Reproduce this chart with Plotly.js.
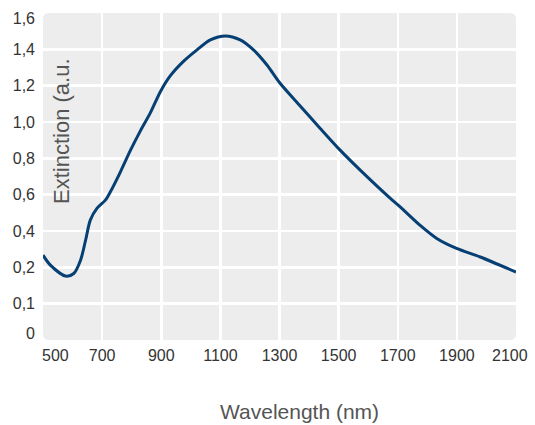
<!DOCTYPE html>
<html>
<head>
<meta charset="utf-8">
<script src="https://cdn.plot.ly/plotly-3.0.1.min.js"></script>
<style>html,body{margin:0;padding:0;background:#fff;}#chart{width:535px;height:425px;}</style>
</head>
<body>
<div id="chart"></div>
<script>
// Data (wavelength in nm, extinction in a.u.)
const wavelength = [500,525,576,604,627,644,660,683,711,728,762,796,829,863,897,931,976,1021,1066,1117,1167,1212,1257,1302,1370,1437,1505,1573,1674,1708,1775,1832,1899,1979,2100];
const extinction = [0.267,0.212,0.176,0.183,0.239,0.349,0.46,0.526,0.57,0.616,0.726,0.845,0.95,1.05,1.167,1.255,1.335,1.397,1.452,1.474,1.452,1.397,1.315,1.213,1.088,0.966,0.845,0.735,0.581,0.533,0.432,0.359,0.304,0.257,0.187];

// Tick labels
const xTickText = ['500','700','900','1100','1300','1500','1700','1900','2100'];
const xGridVals = [700,900,1100,1300,1500,1700,1900];
const yTickText = ['0','0,1','0,2','0,4','0,6','0,8','1,0','1,2','1,4','1,6'];

// The y axis is piecewise: 0–0.2 in steps of 0.1, then steps of 0.2, all equally spaced
function yPos(v){ return v <= 0.2 ? v / 0.1 : 2 + (v - 0.2) / 0.2; }
const yVals = extinction.map(yPos);

const xTickVals = [542,700,900,1100,1300,1500,1700,1900,2079];
const yTickVals = [0.18,1,2,3,4,5,6,7,8,8.86];
const yGridVals = [1,2,3,4,5,6,7,8];

const W = 535, H = 425, ml = 43, mr = 19, mt = 13, mb = 85;
const pw = W - ml - mr, ph = H - mt - mb;
const r = 6, rx = r / pw, ry = r / ph;
const bgPath = `M ${rx},0 L ${1-rx},0 Q 1,0 1,${ry} L 1,${1-ry} Q 1,1 ${1-rx},1 L ${rx},1 Q 0,1 0,${1-ry} L 0,${ry} Q 0,0 ${rx},0 Z`;

const trace = {
  x: wavelength, y: yVals, type: 'scatter', mode: 'lines',
  line: {color: '#063f73', width: 3, shape: 'spline', smoothing: 0.8},
  hoverinfo: 'skip'
};

const tickFont = {family: 'Liberation Sans, Arial, sans-serif', size: 16, color: '#333333'};

const layout = {
  width: W, height: H,
  margin: {l: ml, r: mr, t: mt, b: mb, pad: 0},
  paper_bgcolor: '#ffffff', plot_bgcolor: 'rgba(0,0,0,0)',
  showlegend: false,
  xaxis: {
    range: [500, 2100], fixedrange: true,
    tickmode: 'array', tickvals: xTickVals, ticktext: xTickText,
    showgrid: false, zeroline: false, showline: false, ticks: '',
    tickfont: tickFont, ticklabelstandoff: 4,
    minor: {tickmode: 'array', tickvals: xGridVals, showgrid: true, gridcolor: '#ffffff', gridwidth: 2.5, ticks: ''}
  },
  yaxis: {
    range: [0, 9], fixedrange: true,
    tickmode: 'array', tickvals: yTickVals, ticktext: yTickText,
    showgrid: false, zeroline: false, showline: false, ticks: '',
    tickfont: tickFont, ticklabelstandoff: 7,
    minor: {tickmode: 'array', tickvals: yGridVals, showgrid: true, gridcolor: '#ffffff', gridwidth: 2.5, ticks: ''}
  },
  shapes: [{type: 'path', xref: 'paper', yref: 'paper', path: bgPath, fillcolor: '#ecedec', line: {width: 0}, layer: 'below'}],
  annotations: [
    {text: 'Extinction (a.u.', xref: 'paper', yref: 'paper', x: (61 - ml) / pw, y: (mt + ph - 131) / ph,
     textangle: -90, showarrow: false, xanchor: 'center', yanchor: 'middle',
     font: {family: 'Liberation Sans, Arial, sans-serif', size: 22, color: '#555555'}},
    {text: 'Wavelength (nm)', xref: 'paper', yref: 'paper', x: (299 - ml) / pw, y: (mt + ph - 411) / ph,
     showarrow: false, xanchor: 'center', yanchor: 'middle',
     font: {family: 'Liberation Sans, Arial, sans-serif', size: 21, color: '#555555'}}
  ]
};

Plotly.newPlot('chart', [trace], layout, {displayModeBar: false, staticPlot: true});
</script>
</body>
</html>
